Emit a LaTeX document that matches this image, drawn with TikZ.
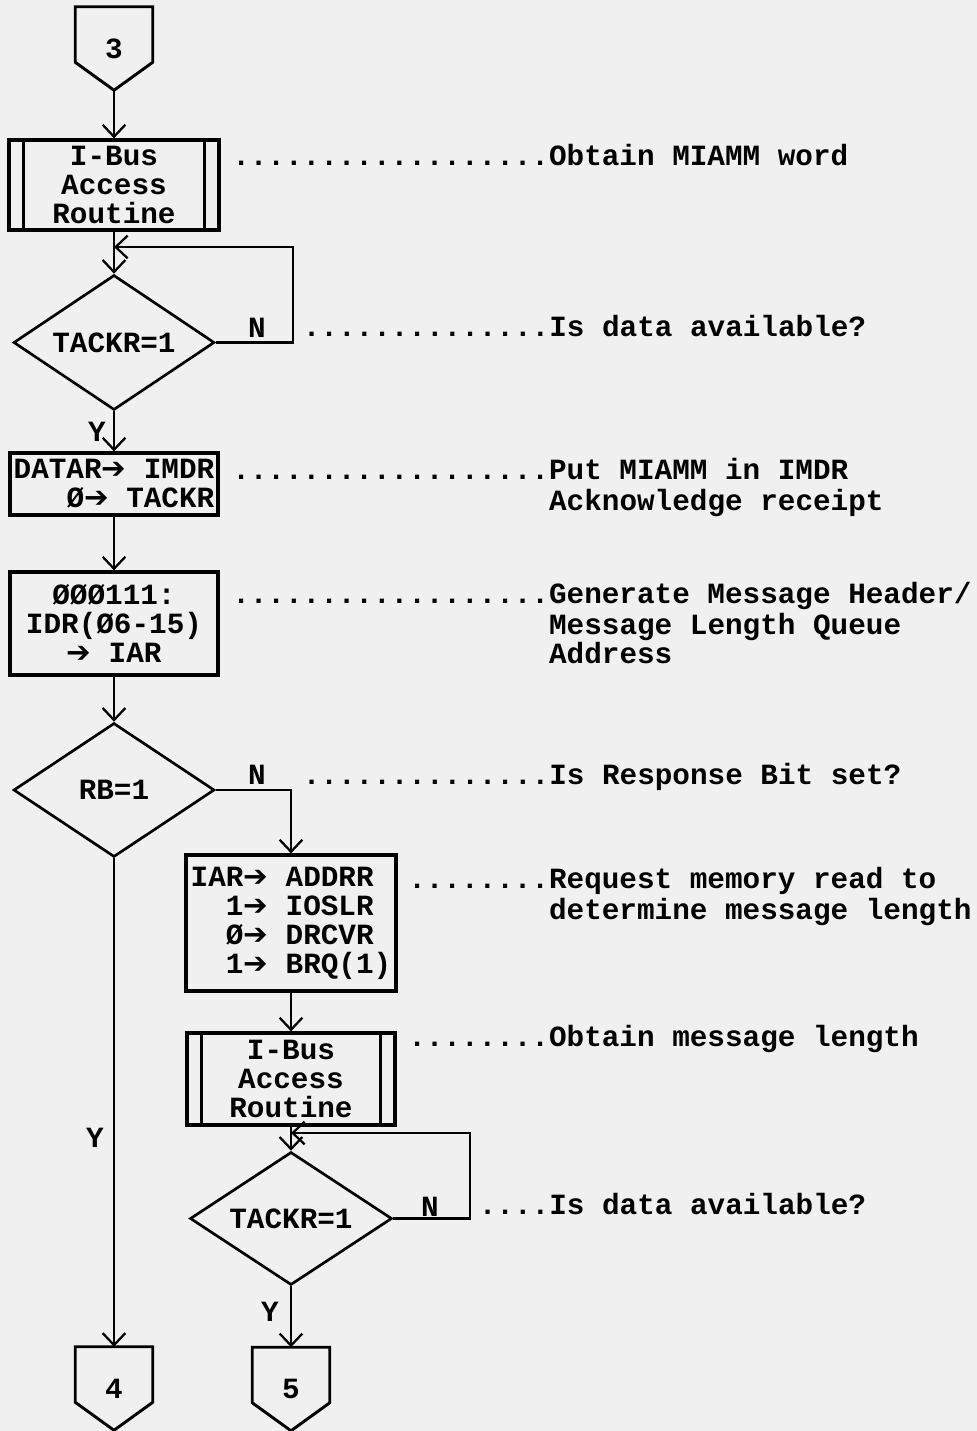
\documentclass[tikz,border=0pt]{standalone}
\usepackage{fontspec}
\setmainfont{Liberation Mono}
\newfontfamily\symfont{DejaVu Sans}
\usetikzlibrary{arrows.meta, shapes.geometric, positioning}
\newcommand{\toarr}{{\symfont\mdseries ➔}}
\tikzset{
  >={Straight Barb[length=9pt,width=17pt]}, % open V heads as on the sheet
  every node/.style={font=\bfseries\fontsize{22}{21.75}\selectfont},
  box/.style={draw, line width=2.4pt, rectangle, inner sep=0pt, align=center},
  % predefined process: box with a double side
  subr/.style={box, path picture={
      \draw[line width=2pt]
      ([xshift=11pt]path picture bounding box.north west) --
      ([xshift=11pt]path picture bounding box.south west)
      ([xshift=-11pt]path picture bounding box.north east) --
      ([xshift=-11pt]path picture bounding box.south east);}},
  test/.style={draw, line width=2pt, diamond, aspect=1.5, inner sep=0pt},
  % off-page connector, drawn round an empty box
  offpage/.style={inner sep=0pt, minimum width=57.75pt, minimum height=62.25pt,
    append after command={\pgfextra{\draw[line width=2.2pt]
        (\tikzlastnode.north west) -- (\tikzlastnode.north east)
        -- ([yshift=21pt]\tikzlastnode.south east) -- (\tikzlastnode.south)
        -- ([yshift=21pt]\tikzlastnode.south west) -- cycle;}}},
  line/.style={->, line width=1.7pt},
  note/.style={anchor=north west, inner sep=0pt, align=left},
  lbl/.style={inner sep=0pt},
}
\begin{document}
\begin{tikzpicture}[x=0.75pt, y=-0.75pt]
  \path[use as bounding box, fill=black!6] (0,0) rectangle (977,1431);

  % left column
  \node[offpage] (c3) at (114,48.5) {3};
  \node[subr, minimum width=157.5pt, minimum height=67.5pt] (ibus1) at (114,185)
  {I-Bus\\Access\\Routine};
  \node[test, minimum width=150.75pt, minimum height=101.25pt] (d1) at (114,342.5)
  {TACKR=1};
  \node[box, align=right, minimum width=156pt, minimum height=46.5pt] (datar) at (114,484)
  {DATAR\toarr{} IMDR\\Ø\toarr{} TACKR};
  \node[box, minimum width=156pt, minimum height=77.25pt] (gen) at (114,623.5)
  {ØØØ111:\\IDR(Ø6-15)\\\toarr{} IAR};
  \node[test, minimum width=150.75pt, minimum height=100.5pt] (rb) at (114,790) {RB=1};
  \node[offpage] (c4) at (114,1388.5) {4};

  % right column
  \node[box, align=left, minimum width=157.5pt, minimum height=102pt] (iar) at (291,923)
  {IAR\toarr{} ADDRR\\\hphantom{IA}1\toarr{} IOSLR\\\hphantom{IA}Ø\toarr{} DRCVR\\\hphantom{IA}1\toarr{} BRQ(1)};
  \node[subr, minimum width=156pt, minimum height=69pt] (ibus2) at (291,1079)
  {I-Bus\\Access\\Routine};
  \node[test, minimum width=151.5pt, minimum height=99.75pt] (d2) at (291,1218.5)
  {TACKR=1};
  \node[offpage] (c5) at (291,1389) {5};

  \coordinate (j1) at (114,247);
  \coordinate (j2) at (291,1133);

  % flow lines
  \draw[line] (c3.south) -- (ibus1.north);
  \draw[line] (ibus1.south) -- (d1.north);
  \draw[line] (d1.east) -- ++(77,0) |- (j1);
  \draw[line] (d1.south) -- (datar.north);
  \draw[line] (datar.south) -- (gen.north);
  \draw[line] (gen.south) -- (rb.north);
  \draw[line] (rb.south) -- (c4.north);
  \draw[line] (rb.east) -| (iar.north);
  \draw[line] (iar.south) -- (ibus2.north);
  \draw[line] (ibus2.south) -- (d2.north);
  \draw[line] (d2.east) -- ++(77,0) |- (j2);
  \draw[line] (d2.south) -- (c5.north);

  % branch letters
  \node[lbl] (n1) at (257,328) {N};
  \node[lbl] (y1) at (97,432) {Y};
  \node[lbl] (n2) at (257,775) {N};
  \node[lbl] (y2) at (95,1138) {Y};
  \node[lbl] (n3) at (430,1207) {N};
  \node[lbl] (y3) at (270,1312) {Y};

  % remarks
  \node[note] (r1) at (232,143.7) {\strut..................Obtain MIAMM word};
  \node[note] (r2) at (302.6,314.7) {\strut..............Is data available?};
  \node[note] (r3) at (232,457.7) {\strut..................Put MIAMM in IMDR\\
    \hphantom{..................}Acknowledge receipt};
  \node[note] (r4) at (232,581.7) {\strut..................Generate Message Header/\\
    \hphantom{..................}Message Length Queue\\
    \hphantom{..................}Address};
  \node[note] (r5) at (302.6,762.7) {\strut..............Is Response Bit set?};
  \node[note] (r6) at (408,866.7) {\strut........Request memory read to\\
    \hphantom{........}determine message length};
  \node[note] (r7) at (408,1024.7) {\strut........Obtain message length};
  \node[note] (r8) at (478.6,1192.7) {\strut....Is data available?};
\end{tikzpicture}
\end{document}
